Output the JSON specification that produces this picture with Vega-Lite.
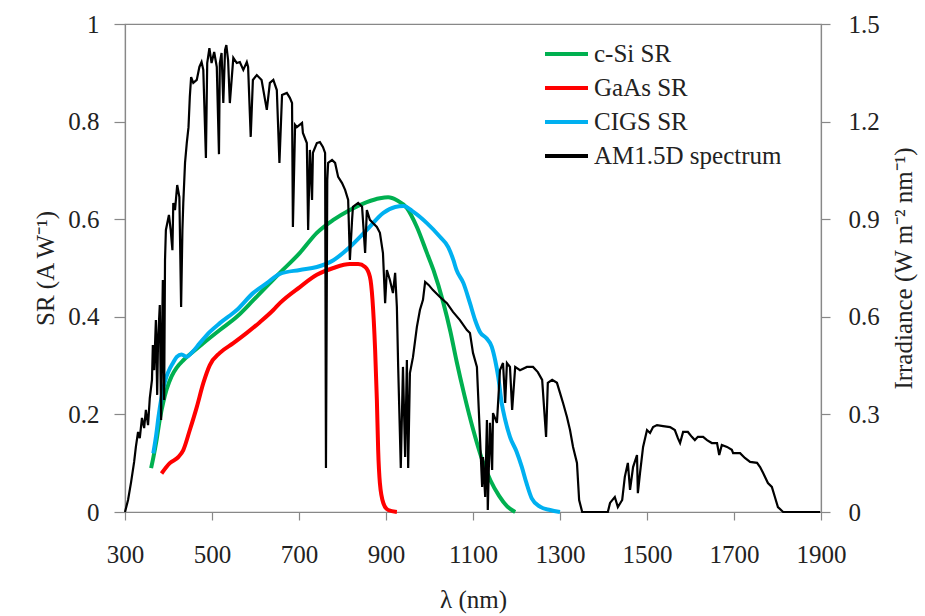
{
  "$schema": "https://vega.github.io/schema/vega-lite/v6.json",
  "width": 696,
  "height": 488,
  "autosize": {"type": "none"},
  "padding": {"left": 125, "top": 24, "right": 104, "bottom": 104},
  "background": "white",
  "config": {
    "view": {"stroke": "#888888", "strokeWidth": 1.2},
    "font": "Liberation Serif",
    "axis": {
      "labelFont": "Liberation Serif", "titleFont": "Liberation Serif",
      "labelFontSize": 25, "titleFontSize": 25,
      "labelColor": "#222222", "titleColor": "#222222",
      "titleFontWeight": "normal",
      "domainColor": "#888888", "tickColor": "#888888",
      "domainWidth": 1.2, "tickWidth": 1.2, "grid": false,
      "labelOverlap": false, "labelFlush": false, "tickCount": 100
    }
  },
  "datasets": {
    "sr": [
      {"s": "c-Si SR", "l": 360, "v": 0.090}, {"s": "c-Si SR", "l": 365, "v": 0.111}, {"s": "c-Si SR", "l": 373, "v": 0.150},
      {"s": "c-Si SR", "l": 380, "v": 0.190}, {"s": "c-Si SR", "l": 388, "v": 0.225}, {"s": "c-Si SR", "l": 396, "v": 0.252},
      {"s": "c-Si SR", "l": 407, "v": 0.278}, {"s": "c-Si SR", "l": 419, "v": 0.296}, {"s": "c-Si SR", "l": 434, "v": 0.311},
      {"s": "c-Si SR", "l": 453, "v": 0.326}, {"s": "c-Si SR", "l": 480, "v": 0.346}, {"s": "c-Si SR", "l": 518, "v": 0.373},
      {"s": "c-Si SR", "l": 557, "v": 0.400}, {"s": "c-Si SR", "l": 595, "v": 0.434}, {"s": "c-Si SR", "l": 633, "v": 0.469},
      {"s": "c-Si SR", "l": 656, "v": 0.490}, {"s": "c-Si SR", "l": 702, "v": 0.531}, {"s": "c-Si SR", "l": 741, "v": 0.572},
      {"s": "c-Si SR", "l": 778, "v": 0.598}, {"s": "c-Si SR", "l": 817, "v": 0.619}, {"s": "c-Si SR", "l": 856, "v": 0.635},
      {"s": "c-Si SR", "l": 886, "v": 0.643}, {"s": "c-Si SR", "l": 905, "v": 0.645}, {"s": "c-Si SR", "l": 925, "v": 0.639},
      {"s": "c-Si SR", "l": 948, "v": 0.623}, {"s": "c-Si SR", "l": 971, "v": 0.584}, {"s": "c-Si SR", "l": 994, "v": 0.531},
      {"s": "c-Si SR", "l": 1009, "v": 0.496}, {"s": "c-Si SR", "l": 1032, "v": 0.428}, {"s": "c-Si SR", "l": 1048, "v": 0.370},
      {"s": "c-Si SR", "l": 1062, "v": 0.310}, {"s": "c-Si SR", "l": 1080, "v": 0.240}, {"s": "c-Si SR", "l": 1100, "v": 0.170},
      {"s": "c-Si SR", "l": 1120, "v": 0.110}, {"s": "c-Si SR", "l": 1140, "v": 0.065}, {"s": "c-Si SR", "l": 1160, "v": 0.033},
      {"s": "c-Si SR", "l": 1178, "v": 0.012}, {"s": "c-Si SR", "l": 1197, "v": 0.000},

      {"s": "GaAs SR", "l": 384, "v": 0.079}, {"s": "GaAs SR", "l": 403, "v": 0.100}, {"s": "GaAs SR", "l": 423, "v": 0.113},
      {"s": "GaAs SR", "l": 434, "v": 0.127}, {"s": "GaAs SR", "l": 449, "v": 0.168}, {"s": "GaAs SR", "l": 465, "v": 0.215},
      {"s": "GaAs SR", "l": 480, "v": 0.264}, {"s": "GaAs SR", "l": 495, "v": 0.301}, {"s": "GaAs SR", "l": 518, "v": 0.326},
      {"s": "GaAs SR", "l": 549, "v": 0.346}, {"s": "GaAs SR", "l": 580, "v": 0.367}, {"s": "GaAs SR", "l": 610, "v": 0.389},
      {"s": "GaAs SR", "l": 641, "v": 0.414}, {"s": "GaAs SR", "l": 656, "v": 0.428}, {"s": "GaAs SR", "l": 702, "v": 0.461},
      {"s": "GaAs SR", "l": 741, "v": 0.486}, {"s": "GaAs SR", "l": 779, "v": 0.500}, {"s": "GaAs SR", "l": 817, "v": 0.508},
      {"s": "GaAs SR", "l": 836, "v": 0.508}, {"s": "GaAs SR", "l": 852, "v": 0.502}, {"s": "GaAs SR", "l": 863, "v": 0.482},
      {"s": "GaAs SR", "l": 869, "v": 0.434}, {"s": "GaAs SR", "l": 875, "v": 0.332}, {"s": "GaAs SR", "l": 879, "v": 0.230},
      {"s": "GaAs SR", "l": 882, "v": 0.127}, {"s": "GaAs SR", "l": 886, "v": 0.059}, {"s": "GaAs SR", "l": 894, "v": 0.018},
      {"s": "GaAs SR", "l": 905, "v": 0.004}, {"s": "GaAs SR", "l": 925, "v": 0.000},

      {"s": "CIGS SR", "l": 365, "v": 0.120}, {"s": "CIGS SR", "l": 372, "v": 0.160}, {"s": "CIGS SR", "l": 377, "v": 0.195},
      {"s": "CIGS SR", "l": 384, "v": 0.235}, {"s": "CIGS SR", "l": 392, "v": 0.268}, {"s": "CIGS SR", "l": 400, "v": 0.288},
      {"s": "CIGS SR", "l": 410, "v": 0.305}, {"s": "CIGS SR", "l": 419, "v": 0.318}, {"s": "CIGS SR", "l": 430, "v": 0.323},
      {"s": "CIGS SR", "l": 442, "v": 0.318}, {"s": "CIGS SR", "l": 453, "v": 0.326}, {"s": "CIGS SR", "l": 472, "v": 0.346},
      {"s": "CIGS SR", "l": 495, "v": 0.369}, {"s": "CIGS SR", "l": 518, "v": 0.387}, {"s": "CIGS SR", "l": 557, "v": 0.414},
      {"s": "CIGS SR", "l": 595, "v": 0.449}, {"s": "CIGS SR", "l": 626, "v": 0.469}, {"s": "CIGS SR", "l": 656, "v": 0.488},
      {"s": "CIGS SR", "l": 702, "v": 0.496}, {"s": "CIGS SR", "l": 741, "v": 0.502}, {"s": "CIGS SR", "l": 779, "v": 0.516},
      {"s": "CIGS SR", "l": 817, "v": 0.543}, {"s": "CIGS SR", "l": 856, "v": 0.578}, {"s": "CIGS SR", "l": 894, "v": 0.613},
      {"s": "CIGS SR", "l": 921, "v": 0.625}, {"s": "CIGS SR", "l": 940, "v": 0.627}, {"s": "CIGS SR", "l": 963, "v": 0.615},
      {"s": "CIGS SR", "l": 994, "v": 0.592}, {"s": "CIGS SR", "l": 1024, "v": 0.564}, {"s": "CIGS SR", "l": 1043, "v": 0.543},
      {"s": "CIGS SR", "l": 1055, "v": 0.516}, {"s": "CIGS SR", "l": 1062, "v": 0.496}, {"s": "CIGS SR", "l": 1078, "v": 0.469},
      {"s": "CIGS SR", "l": 1093, "v": 0.428}, {"s": "CIGS SR", "l": 1105, "v": 0.393}, {"s": "CIGS SR", "l": 1116, "v": 0.369},
      {"s": "CIGS SR", "l": 1131, "v": 0.356}, {"s": "CIGS SR", "l": 1143, "v": 0.339}, {"s": "CIGS SR", "l": 1151, "v": 0.311},
      {"s": "CIGS SR", "l": 1158, "v": 0.277}, {"s": "CIGS SR", "l": 1166, "v": 0.223}, {"s": "CIGS SR", "l": 1174, "v": 0.189},
      {"s": "CIGS SR", "l": 1185, "v": 0.154}, {"s": "CIGS SR", "l": 1200, "v": 0.124}, {"s": "CIGS SR", "l": 1212, "v": 0.093},
      {"s": "CIGS SR", "l": 1223, "v": 0.059}, {"s": "CIGS SR", "l": 1235, "v": 0.028}, {"s": "CIGS SR", "l": 1254, "v": 0.011},
      {"s": "CIGS SR", "l": 1277, "v": 0.004}, {"s": "CIGS SR", "l": 1300, "v": 0.000}
    ],
    "spec": [
      {"l": 300, "v": 0}, {"l": 307, "v": 0.037}, {"l": 314, "v": 0.092}, {"l": 321, "v": 0.154}, {"l": 325, "v": 0.200},
      {"l": 330, "v": 0.246}, {"l": 334, "v": 0.227}, {"l": 339, "v": 0.289}, {"l": 344, "v": 0.258}, {"l": 348, "v": 0.314},
      {"l": 353, "v": 0.267}, {"l": 357, "v": 0.350}, {"l": 362, "v": 0.406}, {"l": 364, "v": 0.513}, {"l": 367, "v": 0.436},
      {"l": 371, "v": 0.590}, {"l": 374, "v": 0.360}, {"l": 376, "v": 0.529}, {"l": 380, "v": 0.636}, {"l": 383, "v": 0.283},
      {"l": 385, "v": 0.529}, {"l": 387, "v": 0.713}, {"l": 390, "v": 0.344}, {"l": 392, "v": 0.775}, {"l": 394, "v": 0.867},
      {"l": 401, "v": 0.913}, {"l": 405, "v": 0.867}, {"l": 409, "v": 0.805}, {"l": 411, "v": 0.950}, {"l": 415, "v": 0.928},
      {"l": 420, "v": 1.005}, {"l": 425, "v": 0.968}, {"l": 429, "v": 0.630}, {"l": 432, "v": 0.867}, {"l": 434, "v": 0.950},
      {"l": 438, "v": 1.073}, {"l": 442, "v": 1.134}, {"l": 446, "v": 1.183}, {"l": 449, "v": 1.276}, {"l": 452, "v": 1.337},
      {"l": 457, "v": 1.319}, {"l": 465, "v": 1.328}, {"l": 471, "v": 1.368}, {"l": 476, "v": 1.383}, {"l": 480, "v": 1.359},
      {"l": 486, "v": 1.088}, {"l": 489, "v": 1.380}, {"l": 494, "v": 1.426}, {"l": 499, "v": 1.380}, {"l": 505, "v": 1.414},
      {"l": 511, "v": 1.368}, {"l": 516, "v": 1.100}, {"l": 518, "v": 1.380}, {"l": 522, "v": 1.411}, {"l": 526, "v": 1.257},
      {"l": 530, "v": 1.420}, {"l": 533, "v": 1.435}, {"l": 537, "v": 1.389}, {"l": 541, "v": 1.257}, {"l": 549, "v": 1.396},
      {"l": 557, "v": 1.380}, {"l": 564, "v": 1.383}, {"l": 572, "v": 1.359}, {"l": 580, "v": 1.383}, {"l": 583, "v": 1.368},
      {"l": 589, "v": 1.153}, {"l": 594, "v": 1.328}, {"l": 603, "v": 1.343}, {"l": 614, "v": 1.328}, {"l": 626, "v": 1.236},
      {"l": 633, "v": 1.319}, {"l": 641, "v": 1.328}, {"l": 649, "v": 1.297}, {"l": 655, "v": 1.073}, {"l": 661, "v": 1.282},
      {"l": 672, "v": 1.288}, {"l": 679, "v": 1.273}, {"l": 684, "v": 1.257}, {"l": 686, "v": 0.876}, {"l": 691, "v": 1.190},
      {"l": 695, "v": 1.183}, {"l": 707, "v": 1.196}, {"l": 709, "v": 1.165}, {"l": 718, "v": 1.134}, {"l": 721, "v": 0.867},
      {"l": 725, "v": 1.113}, {"l": 730, "v": 0.959}, {"l": 732, "v": 1.104}, {"l": 741, "v": 1.134}, {"l": 748, "v": 1.137},
      {"l": 755, "v": 1.122}, {"l": 760, "v": 1.104}, {"l": 762, "v": 0.135}, {"l": 765, "v": 1.020}, {"l": 767, "v": 1.073},
      {"l": 776, "v": 1.082}, {"l": 783, "v": 1.073}, {"l": 790, "v": 1.030}, {"l": 799, "v": 1.011}, {"l": 806, "v": 0.990},
      {"l": 813, "v": 0.959}, {"l": 817, "v": 0.775}, {"l": 822, "v": 0.898}, {"l": 824, "v": 0.938}, {"l": 836, "v": 0.950},
      {"l": 845, "v": 0.938}, {"l": 847, "v": 0.898}, {"l": 852, "v": 0.796}, {"l": 856, "v": 0.928}, {"l": 863, "v": 0.898},
      {"l": 870, "v": 0.888}, {"l": 879, "v": 0.876}, {"l": 886, "v": 0.858}, {"l": 893, "v": 0.796}, {"l": 898, "v": 0.642},
      {"l": 902, "v": 0.744}, {"l": 909, "v": 0.713}, {"l": 916, "v": 0.673}, {"l": 921, "v": 0.735}, {"l": 925, "v": 0.630},
      {"l": 928, "v": 0.446}, {"l": 934, "v": 0.135}, {"l": 939, "v": 0.446}, {"l": 944, "v": 0.169}, {"l": 948, "v": 0.467},
      {"l": 951, "v": 0.135}, {"l": 955, "v": 0.427}, {"l": 962, "v": 0.476}, {"l": 971, "v": 0.569}, {"l": 978, "v": 0.621},
      {"l": 985, "v": 0.652}, {"l": 990, "v": 0.707}, {"l": 998, "v": 0.698}, {"l": 1008, "v": 0.682}, {"l": 1024, "v": 0.661},
      {"l": 1040, "v": 0.642}, {"l": 1054, "v": 0.615}, {"l": 1070, "v": 0.590}, {"l": 1086, "v": 0.559}, {"l": 1093, "v": 0.550},
      {"l": 1100, "v": 0.489}, {"l": 1109, "v": 0.446}, {"l": 1111, "v": 0.384}, {"l": 1116, "v": 0.231}, {"l": 1121, "v": 0.077},
      {"l": 1123, "v": 0.169}, {"l": 1128, "v": 0.046}, {"l": 1132, "v": 0.283}, {"l": 1134, "v": 0.006}, {"l": 1139, "v": 0.274},
      {"l": 1144, "v": 0.129}, {"l": 1146, "v": 0.304}, {"l": 1155, "v": 0.274}, {"l": 1162, "v": 0.436}, {"l": 1169, "v": 0.458},
      {"l": 1174, "v": 0.335}, {"l": 1178, "v": 0.458}, {"l": 1185, "v": 0.446}, {"l": 1190, "v": 0.314}, {"l": 1197, "v": 0.446},
      {"l": 1208, "v": 0.436}, {"l": 1224, "v": 0.446}, {"l": 1238, "v": 0.446}, {"l": 1249, "v": 0.430}, {"l": 1259, "v": 0.406},
      {"l": 1268, "v": 0.231}, {"l": 1272, "v": 0.397}, {"l": 1282, "v": 0.406}, {"l": 1293, "v": 0.397}, {"l": 1300, "v": 0.366},
      {"l": 1307, "v": 0.335}, {"l": 1316, "v": 0.292}, {"l": 1323, "v": 0.252}, {"l": 1330, "v": 0.200}, {"l": 1339, "v": 0.151},
      {"l": 1344, "v": 0.037}, {"l": 1351, "v": 0}, {"l": 1410, "v": 0}, {"l": 1415, "v": 0.028}, {"l": 1426, "v": 0.046},
      {"l": 1433, "v": 0.015}, {"l": 1443, "v": 0.037}, {"l": 1449, "v": 0.108}, {"l": 1456, "v": 0.151}, {"l": 1461, "v": 0.068},
      {"l": 1468, "v": 0.138}, {"l": 1477, "v": 0.175}, {"l": 1479, "v": 0.058}, {"l": 1484, "v": 0.120}, {"l": 1491, "v": 0.200},
      {"l": 1500, "v": 0.252}, {"l": 1507, "v": 0.243}, {"l": 1514, "v": 0.261}, {"l": 1523, "v": 0.267}, {"l": 1537, "v": 0.264},
      {"l": 1553, "v": 0.261}, {"l": 1564, "v": 0.252}, {"l": 1571, "v": 0.227}, {"l": 1576, "v": 0.212}, {"l": 1583, "v": 0.246},
      {"l": 1594, "v": 0.246}, {"l": 1603, "v": 0.231}, {"l": 1610, "v": 0.221}, {"l": 1617, "v": 0.231}, {"l": 1629, "v": 0.231},
      {"l": 1638, "v": 0.221}, {"l": 1649, "v": 0.212}, {"l": 1661, "v": 0.212}, {"l": 1666, "v": 0.175}, {"l": 1672, "v": 0.206},
      {"l": 1684, "v": 0.200}, {"l": 1695, "v": 0.191}, {"l": 1698, "v": 0.181}, {"l": 1714, "v": 0.181}, {"l": 1725, "v": 0.166},
      {"l": 1737, "v": 0.154}, {"l": 1753, "v": 0.151}, {"l": 1760, "v": 0.138}, {"l": 1767, "v": 0.120}, {"l": 1778, "v": 0.089},
      {"l": 1787, "v": 0.077}, {"l": 1794, "v": 0.046}, {"l": 1801, "v": 0.015}, {"l": 1813, "v": 0}, {"l": 1898, "v": 0}
    ]
  },
  "layer": [
    {
      "data": {"name": "sr"},
      "mark": {"type": "line", "interpolate": "monotone", "strokeWidth": 4},
      "encoding": {
        "x": {
          "field": "l", "type": "quantitative",
          "scale": {"domain": [300, 1900], "nice": false, "zero": false},
          "axis": {
            "title": "λ (nm)",
            "values": [300,340,380,420,460,500,540,580,620,660,700,740,780,820,860,900,940,980,1020,1060,1100,1140,1180,1220,1260,1300,1340,1380,1420,1460,1500,1540,1580,1620,1660,1700,1740,1780,1820,1860,1900],
            "tickCount": 100,
            "labelExpr": "(datum.value-300)%200==0 ? format(datum.value,'d') : ''",
            "tickSize": 8,
            "tickOpacity": {"condition": {"test": "(datum.value-300)%200==0", "value": 1}, "value": 0},
            "labelPadding": 22, "titlePadding": 20
          }
        },
        "y": {
          "field": "v", "type": "quantitative",
          "scale": {"domain": [0, 1], "nice": false},
          "axis": {
            "orient": "left",
            "title": "SR (A W⁻¹)",
            "values": [0,0.04,0.08,0.12,0.16,0.2,0.24,0.28,0.32,0.36,0.4,0.44,0.48,0.52,0.56,0.6,0.64,0.68,0.72,0.76,0.8,0.84,0.88,0.92,0.96,1],
            "tickCount": 100,
            "labelExpr": "abs(datum.value*5-round(datum.value*5))<0.001 ? format(datum.value,'.1~f') : ''",
            "tickSize": 11,
            "tickOpacity": {"condition": {"test": "abs(datum.value*5-round(datum.value*5))<0.001", "value": 1}, "value": 0},
            "labelPadding": 15, "titlePadding": 9
          }
        },
        "color": {
          "field": "s", "type": "nominal",
          "scale": {"domain": ["c-Si SR", "GaAs SR", "CIGS SR", "AM1.5D spectrum"], "range": ["#00B050", "#FF0000", "#00B0F0", "#000000"]},
          "legend": {
            "title": null, "orient": "none", "legendX": 418, "legendY": 13, "padding": 0,
            "labelFont": "Liberation Serif", "labelFontSize": 25, "labelColor": "#222222", "labelLimit": 400,
            "symbolType": "stroke", "symbolSize": 1849, "symbolStrokeWidth": 4,
            "labelOffset": 4, "rowPadding": 0, "clipHeight": 34
          }
        }
      }
    },
    {
      "data": {"name": "spec"},
      "transform": [{"calculate": "'AM1.5D spectrum'", "as": "s"}],
      "mark": {"type": "line", "strokeWidth": 2.2},
      "encoding": {
        "x": {"field": "l", "type": "quantitative"},
        "y": {
          "field": "v", "type": "quantitative",
          "scale": {"domain": [0, 1.5], "nice": false},
          "axis": {
            "orient": "right",
            "title": "Irradiance (W m⁻² nm⁻¹)",
            "titleAngle": 270, "titleBaseline": "top",
            "values": [0,0.06,0.12,0.18,0.24,0.3,0.36,0.42,0.48,0.54,0.6,0.66,0.72,0.78,0.84,0.9,0.96,1.02,1.08,1.14,1.2,1.26,1.32,1.38,1.44,1.5],
            "tickCount": 100,
            "labelExpr": "abs(datum.value/0.3-round(datum.value/0.3))<0.001 ? format(datum.value,'.1~f') : ''",
            "tickSize": 9,
            "tickOpacity": {"condition": {"test": "abs(datum.value/0.3-round(datum.value/0.3))<0.001", "value": 1}, "value": 0},
            "labelPadding": 18, "titlePadding": 12
          }
        },
        "color": {"field": "s", "type": "nominal"}
      }
    }
  ],
  "resolve": {"scale": {"y": "independent"}}
}
